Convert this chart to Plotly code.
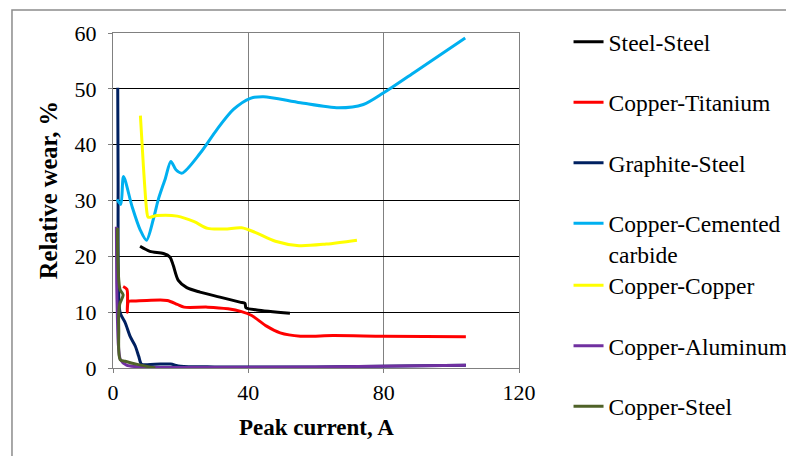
import plotly.graph_objects as go

# ---- data ----
steel_steel_x = [8.0, 10.9, 14.9, 16.8, 17.8, 19.3, 21.8, 25.7, 31.6, 37.5, 39.0, 39.3, 42.5, 52.3]
steel_steel_y = [21.8, 20.9, 20.5, 19.9, 18.4, 15.7, 14.4, 13.6, 12.7, 11.8, 11.6, 10.8, 10.4, 9.8]

cu_ti_x = [3.0, 4.1, 4.3, 4.2, 4.6, 6.0, 10.0, 16.0, 19.0, 21.0, 28.0, 34.0, 38.0, 41.0, 45.4, 49.4, 55.4, 65.0, 80.0, 104.3]
cu_ti_y = [14.6, 14.1, 12.0, 10.0, 11.9, 12.0, 12.1, 12.1, 11.4, 10.9, 10.9, 10.6, 10.1, 9.4, 7.5, 6.3, 5.7, 5.8, 5.7, 5.6]

gr_st_x = [1.4, 1.5, 1.6, 2.1, 3.6, 5.1, 6.6, 7.6, 8.4, 10.0, 14.0, 17.0, 20.0, 30.0, 60.0, 104.3]
gr_st_y = [50.2, 35.0, 15.8, 9.9, 8.1, 5.6, 3.9, 2.1, 0.7, 0.6, 0.7, 0.7, 0.3, 0.2, 0.2, 0.5]

cu_cc_x = [1.2, 2.3, 3.1, 5.6, 8.0, 9.9, 11.9, 13.4, 15.5, 17.1, 18.6, 20.4, 25.8, 30.7, 35.6, 40.6, 44.5, 55.4, 66.7, 74.0, 80.0, 88.9, 104.1]
cu_cc_y = [30.2, 29.3, 34.3, 29.0, 24.8, 22.9, 26.6, 30.2, 34.0, 37.0, 35.5, 34.9, 38.5, 42.7, 46.3, 48.3, 48.6, 47.5, 46.6, 47.2, 49.3, 52.9, 59.1]

cu_cu_x = [8.1, 9.0, 10.0, 10.4, 13.0, 19.0, 24.0, 28.0, 33.0, 38.0, 42.0, 48.0, 55.0, 63.0, 72.1]
cu_cu_y = [45.2, 36.0, 28.0, 27.0, 27.3, 27.2, 26.2, 25.0, 24.9, 25.1, 24.3, 22.7, 21.9, 22.2, 22.9]

cu_al_x = [1.0, 1.1, 1.3, 1.6, 2.2, 4.0, 8.0, 20.0, 60.0, 104.3]
cu_al_y = [25.3, 15.0, 9.0, 4.0, 1.5, 0.5, 0.2, 0.1, 0.2, 0.5]

cu_st_x = [1.3, 1.4, 1.7, 2.1, 3.0, 2.0, 1.7, 1.7, 2.1, 3.6, 7.5, 12.5]
cu_st_y = [25.1, 20.0, 15.8, 14.0, 13.1, 11.5, 9.9, 6.9, 1.5, 1.2, 0.6, 0.0]

series = [
    ("Steel-Steel", steel_steel_x, steel_steel_y, "#000000", "legend"),
    ("Copper-Titanium", cu_ti_x, cu_ti_y, "#FF0000", "legend"),
    ("Graphite-Steel", gr_st_x, gr_st_y, "#002060", "legend"),
    ("Copper-Cemented<br>carbide", cu_cc_x, cu_cc_y, "#00B0F0", "legend"),
    ("Copper-Copper", cu_cu_x, cu_cu_y, "#FFFF00", "legend2"),
    ("Copper-Aluminum", cu_al_x, cu_al_y, "#7030A0", "legend2"),
    ("Copper-Steel", cu_st_x, cu_st_y, "#4F6228", "legend2"),
]

x_ticks = [0, 40, 80, 120]
y_ticks = [0, 10, 20, 30, 40, 50, 60]

FONT = "Liberation Serif"

fig = go.Figure()
for i, (name, xs, ys, color, lg) in enumerate(series):
    fig.add_trace(go.Scatter(
        x=xs, y=ys, name=name, mode="lines",
        line=dict(color=color, width=3, shape="spline", smoothing=0.8),
        legend=lg, legendgroup=str(i),
    ))

# page body adds an 8px offset, so the figure is laid out 8px up/left
fig.update_layout(
    width=794, height=456,
    margin=dict(l=105, r=283, t=25, b=96, autoexpand=False),
    paper_bgcolor="white", plot_bgcolor="white",
    font=dict(family=FONT, size=21, color="black"),
    showlegend=True,
    legend=dict(x=1.122, y=0.657, xanchor="left", yanchor="middle",
                font=dict(family=FONT, size=23.5, color="black"),
                tracegroupgap=27, valign="top", bgcolor="rgba(0,0,0,0)"),
    legend2=dict(x=1.122, y=0.066, xanchor="left", yanchor="middle",
                 font=dict(family=FONT, size=23.5, color="black"),
                 tracegroupgap=27, valign="top", bgcolor="rgba(0,0,0,0)"),
    xaxis=dict(range=[0, 120], tickvals=x_ticks, ticktext=[str(v) for v in x_ticks],
               showgrid=True, gridcolor="#808080", gridwidth=1,
               showline=True, linecolor="#808080", linewidth=1, mirror=True,
               ticks="outside", ticklen=4, tickcolor="#808080",
               ticklabelstandoff=1, zeroline=False, automargin=False,
               tickfont=dict(family=FONT, size=22, color="black")),
    yaxis=dict(range=[0, 60], tickvals=y_ticks, ticktext=[str(v) for v in y_ticks],
               showgrid=True, gridcolor="#000000", gridwidth=1,
               showline=True, linecolor="#808080", linewidth=1, mirror=True,
               ticks="outside", ticklen=4, tickcolor="#808080",
               ticklabelstandoff=7, zeroline=False, automargin=False,
               tickfont=dict(family=FONT, size=22, color="black")),
    annotations=[
        dict(text="<b>Peak current, A</b>", xref="paper", yref="paper",
             x=0.5, y=-0.179, xanchor="center", yanchor="middle", showarrow=False,
             font=dict(family=FONT, size=23, color="black")),
        dict(text="<b>Relative wear, %</b>", xref="paper", yref="paper",
             x=-0.16, y=0.531, xanchor="center", yanchor="middle", showarrow=False,
             textangle=-90, font=dict(family=FONT, size=24.5, color="black")),
    ],
    shapes=[dict(type="rect", xref="paper", yref="paper",
                 x0=-0.2488, y0=-1.0, x1=2.0, y1=1.0687,
                 line=dict(color="#8C8C8C", width=1.5), fillcolor="rgba(0,0,0,0)",
                 layer="below")],
)

fig.write_html("out.html")
